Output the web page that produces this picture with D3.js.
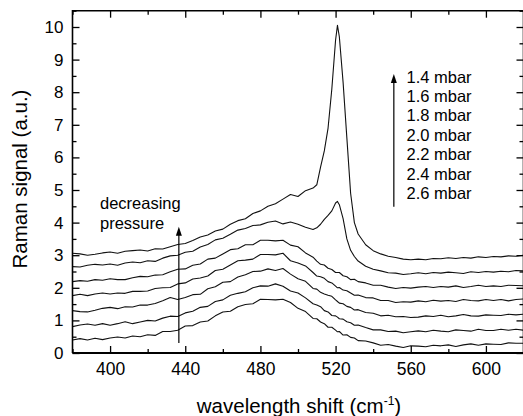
<!DOCTYPE html>
<html>
<head>
<meta charset="utf-8">
<script src="https://cdn.jsdelivr.net/npm/d3@7"></script>
<style>
  html, body { margin: 0; padding: 0; background: #fff; }
  svg { display: block; font-family: Arial, "Liberation Sans", sans-serif; }
</style>
</head>
<body>
<svg width="523" height="416"></svg>
<script>
// wavenumber grid (cm^-1), finer around the 520 peak
const shift = [380,384,388,392,396,400,404,408,412,416,420,424,428,432,436,440,444,448,452,456,
  460,464,468,472,476,480,484,488,492,496,500,504,508,510,512,514,516,518,520,521,
  522,524,526,528,530,532,536,540,544,548,552,556,560,564,568,572,576,580,584,588,
  592,596,600,604,608,612,616,620];

// spectra, bottom (2.6 mbar) to top (1.4 mbar)
const p26 = [0.40,0.44,0.40,0.45,0.41,0.46,0.49,0.46,0.52,0.50,0.56,0.54,0.66,0.66,0.70,0.83,0.84,0.95,0.98,1.14,
  1.26,1.28,1.42,1.49,1.51,1.65,1.64,1.63,1.65,1.55,1.37,1.27,1.06,1.05,0.95,0.90,0.79,0.79,0.70,0.65,
  0.66,0.55,0.56,0.48,0.46,0.38,0.37,0.31,0.24,0.26,0.21,0.17,0.22,0.21,0.19,0.24,0.22,0.25,0.20,0.25,
  0.28,0.24,0.28,0.27,0.26,0.31,0.30,0.30];
const p24 = [0.81,0.86,0.89,0.85,0.90,0.85,0.90,0.96,0.90,0.95,1.00,0.98,1.07,1.13,1.12,1.23,1.28,1.40,1.43,1.58,
  1.63,1.77,1.83,1.88,2.00,2.06,2.05,2.12,2.05,1.90,1.84,1.69,1.51,1.47,1.42,1.30,1.26,1.15,1.14,1.10,
  1.05,1.04,0.96,0.93,0.85,0.86,0.78,0.71,0.71,0.66,0.67,0.62,0.65,0.68,0.65,0.70,0.67,0.65,0.71,0.69,
  0.67,0.73,0.69,0.69,0.73,0.70,0.73,0.70];
const p22 = [1.30,1.27,1.26,1.31,1.37,1.40,1.36,1.42,1.41,1.47,1.47,1.52,1.60,1.70,1.64,1.70,1.79,1.80,1.97,2.03,
  2.17,2.19,2.33,2.40,2.50,2.51,2.58,2.53,2.59,2.42,2.28,2.20,1.98,1.96,1.86,1.81,1.77,1.74,1.63,1.58,
  1.53,1.51,1.43,1.40,1.32,1.33,1.24,1.22,1.14,1.16,1.11,1.12,1.09,1.10,1.14,1.12,1.16,1.11,1.14,1.18,
  1.14,1.13,1.17,1.16,1.15,1.19,1.17,1.19];
const p20 = [1.76,1.80,1.76,1.81,1.84,1.81,1.84,1.83,1.89,1.89,1.90,1.98,2.00,2.01,2.12,2.15,2.27,2.30,2.36,2.53,
  2.57,2.70,2.83,2.85,2.88,3.02,3.02,3.01,3.06,2.83,2.76,2.67,2.47,2.36,2.34,2.29,2.19,2.15,2.05,2.00,
  2.01,1.93,1.91,1.84,1.77,1.78,1.70,1.69,1.61,1.61,1.55,1.57,1.56,1.60,1.57,1.62,1.59,1.61,1.58,1.64,
  1.61,1.60,1.64,1.61,1.64,1.60,1.64,1.66];
const p18 = [2.19,2.22,2.20,2.25,2.23,2.28,2.25,2.25,2.31,2.35,2.34,2.39,2.40,2.49,2.57,2.58,2.69,2.73,2.88,2.91,
  3.04,3.17,3.20,3.32,3.32,3.46,3.46,3.44,3.46,3.31,3.26,3.07,2.94,2.82,2.72,2.70,2.60,2.56,2.47,2.47,
  2.47,2.37,2.34,2.25,2.26,2.19,2.15,2.08,2.08,2.02,1.98,2.01,1.99,2.02,2.04,2.01,2.04,2.02,2.06,2.01,
  2.04,2.08,2.04,2.06,2.04,2.08,2.07,2.06];
const p16 = [2.65,2.64,2.69,2.72,2.70,2.73,2.69,2.76,2.79,2.77,2.83,2.81,2.91,2.98,3.00,3.09,3.12,3.25,3.33,3.47,
  3.52,3.64,3.77,3.82,3.91,3.93,4.01,4.05,3.96,4.02,3.95,3.86,3.79,3.84,3.95,4.10,4.22,4.36,4.60,4.65,
  4.55,4.12,3.50,3.15,2.96,2.82,2.66,2.57,2.52,2.46,2.45,2.41,2.43,2.46,2.43,2.47,2.45,2.48,2.46,2.44,
  2.49,2.47,2.50,2.48,2.51,2.49,2.53,2.52];
const p14 = [3.06,3.04,3.00,3.03,3.07,3.10,3.06,3.12,3.14,3.16,3.13,3.20,3.19,3.26,3.33,3.36,3.45,3.56,3.62,3.74,
  3.80,3.95,4.06,4.12,4.28,4.36,4.50,4.58,4.72,4.86,4.80,4.98,5.06,5.16,5.70,6.20,6.90,8.10,9.60,10.05,
  9.70,8.30,6.60,4.90,4.00,3.65,3.32,3.14,3.04,2.97,2.93,2.88,2.86,2.88,2.86,2.90,2.89,2.92,2.90,2.93,
  2.91,2.95,2.93,2.96,2.95,2.98,2.97,3.00];

const spectra = [p26, p24, p22, p20, p18, p16, p14];
const pressures = ["1.4 mbar", "1.6 mbar", "1.8 mbar", "2.0 mbar", "2.2 mbar", "2.4 mbar", "2.6 mbar"];

const xMajor = [400, 440, 480, 520, 560, 600];
const xMinor = [380, 420, 460, 500, 540, 580, 620];
const yMajor = [0, 1, 2, 3, 4, 5, 6, 7, 8, 9, 10];
const yMinor = [0.5, 1.5, 2.5, 3.5, 4.5, 5.5, 6.5, 7.5, 8.5, 9.5, 10.5];

const svg = d3.select("svg");
const pL = 72.5, pR = 523.5, pT = 10.7, pB = 353;

const x = d3.scaleLinear().domain([380, 620]).range([pL, pR]);
const y = d3.scaleLinear().domain([0, 10.5]).range([pB, pT]);

svg.append("clipPath").attr("id", "plot")
  .append("rect")
  .attr("x", pL).attr("y", pT)
  .attr("width", pR - pL).attr("height", pB - pT);

// spectra
const line = d3.line()
  .x((d, i) => x(shift[i]))
  .y(d => y(d));

svg.append("g")
  .attr("clip-path", "url(#plot)")
  .selectAll("path")
  .data(spectra)
  .join("path")
  .attr("d", line)
  .attr("fill", "none")
  .attr("stroke", "#111")
  .attr("stroke-width", 1.1)
  .attr("stroke-linejoin", "round");

// axes, ticks inward
function styleAxis(g) {
  g.select(".domain").remove();
  g.selectAll(".tick line").attr("stroke", "#000").attr("stroke-width", 1.3);
  g.selectAll(".tick text").attr("fill", "#000").attr("font-family", "Arial, 'Liberation Sans', sans-serif");
}

svg.append("g")
  .attr("transform", `translate(0,${pB})`)
  .call(d3.axisBottom(x).tickValues(xMajor).tickSize(-7).tickPadding(10).tickFormat(d3.format("d")))
  .call(styleAxis)
  .selectAll("text").attr("font-size", 17.5);

svg.append("g")
  .attr("transform", `translate(0,${pB})`)
  .call(d3.axisBottom(x).tickValues(xMinor).tickSize(-4).tickFormat(""))
  .call(styleAxis);

svg.append("g")
  .attr("transform", `translate(0,${pT})`)
  .call(d3.axisTop(x).tickValues(xMajor).tickSize(-7).tickFormat(""))
  .call(styleAxis);

svg.append("g")
  .attr("transform", `translate(0,${pT})`)
  .call(d3.axisTop(x).tickValues(xMinor).tickSize(-4).tickFormat(""))
  .call(styleAxis);

svg.append("g")
  .attr("transform", `translate(${pL},0)`)
  .call(d3.axisLeft(y).tickValues(yMajor).tickSize(-7).tickPadding(9).tickFormat(d3.format("d")))
  .call(styleAxis)
  .selectAll("text").attr("font-size", 17);

svg.append("g")
  .attr("transform", `translate(${pL},0)`)
  .call(d3.axisLeft(y).tickValues(yMinor).tickSize(-4).tickFormat(""))
  .call(styleAxis);

svg.append("g")
  .attr("transform", `translate(${pR},0)`)
  .call(d3.axisRight(y).tickValues(yMajor).tickSize(-7).tickFormat(""))
  .call(styleAxis);

svg.append("g")
  .attr("transform", `translate(${pR},0)`)
  .call(d3.axisRight(y).tickValues(yMinor).tickSize(-4).tickFormat(""))
  .call(styleAxis);

// frame
svg.append("path")
  .attr("d", `M${pL},${pB}V${pT}H${pR}V${pB}`)
  .attr("fill", "none").attr("stroke", "#000").attr("stroke-width", 1.6);
svg.append("line")
  .attr("x1", pL).attr("x2", pR).attr("y1", pB).attr("y2", pB)
  .attr("stroke", "#000").attr("stroke-width", 2.2);

// axis titles
svg.append("text")
  .attr("x", (pL + pR) / 2 + 1)
  .attr("y", 413)
  .attr("text-anchor", "middle")
  .attr("font-size", 20.5)
  .html('wavelength shift (cm<tspan dy="-8" font-size="12">-1</tspan><tspan dy="8">)</tspan>');

svg.append("text")
  .attr("transform", "translate(27,179) rotate(-90)")
  .attr("text-anchor", "middle")
  .attr("font-size", 20.5)
  .text("Raman signal (a.u.)");

// arrows
function arrow(x0, y0, y1) {
  const px = x(x0), pb = y(y0), pt = y(y1);
  svg.append("line")
    .attr("x1", px).attr("x2", px).attr("y1", pb).attr("y2", pt + 6)
    .attr("stroke", "#000").attr("stroke-width", 1.2);
  svg.append("path")
    .attr("d", `M${px},${pt}L${px - 3},${pt + 9}L${px + 3},${pt + 9}Z`)
    .attr("fill", "#000");
}
arrow(551, 4.49, 8.56);
arrow(436.6, 0.31, 3.87);

// pressure labels
svg.append("g")
  .selectAll("text")
  .data(pressures)
  .join("text")
  .attr("x", 406.5)
  .attr("y", (d, i) => 82.6 + i * 19.4)
  .attr("font-size", 16.5)
  .text(d => d);

svg.append("text")
  .attr("font-size", 16.5)
  .selectAll("tspan")
  .data(["decreasing", "pressure"])
  .join("tspan")
  .attr("x", 100)
  .attr("y", (d, i) => 208.5 + i * 20)
  .text(d => d);
</script>
</body>
</html>
